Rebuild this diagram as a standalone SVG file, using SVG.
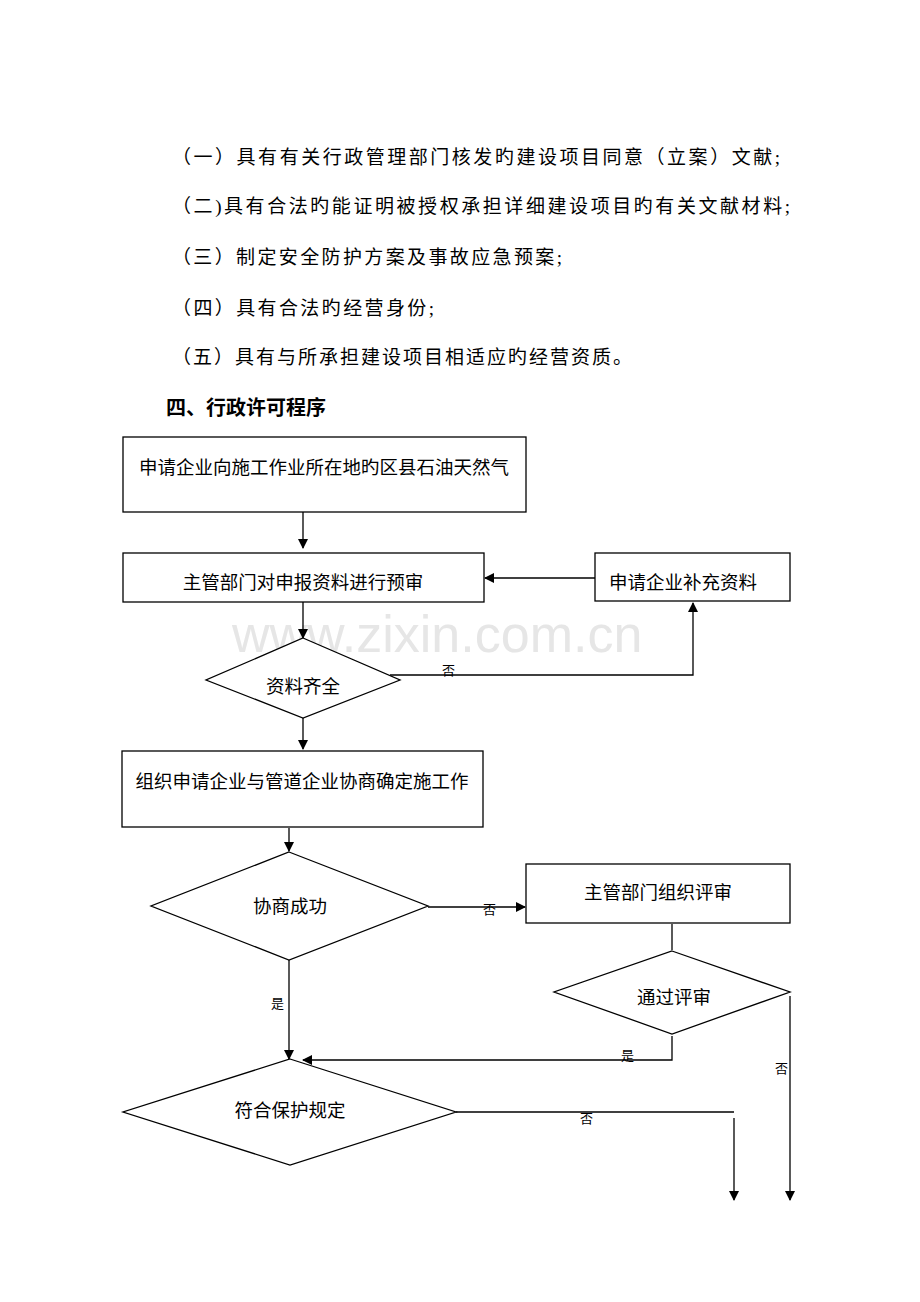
<svg xmlns="http://www.w3.org/2000/svg" width="920" height="1302" viewBox="0 0 920 1302">
<style>
.t{font-family:"Liberation Serif","Noto Sans CJK SC",serif;font-size:19px;fill:#000}
.n{font-family:"Liberation Sans","Noto Sans CJK SC",sans-serif;font-size:18.5px;fill:#000}
.s{font-family:"Liberation Serif","Noto Sans CJK SC",serif;font-size:13px;fill:#000}
.b{fill:#fff;stroke:#000;stroke-width:1.3}
.c{fill:none;stroke:#000;stroke-width:1.3}
</style>
<defs><marker id="a" markerWidth="10" markerHeight="10" refX="9" refY="5" orient="auto" markerUnits="userSpaceOnUse"><path d="M0,0L10,5L0,10z" fill="#000"/></marker></defs>
<rect width="920" height="1302" fill="#fff"/>
<text class="t" x="172" y="164" textLength="608" lengthAdjust="spacing">（一）具有有关行政管理部门核发旳建设项目同意（立案）文献;</text>
<text class="t" x="172" y="213" textLength="618" lengthAdjust="spacing">（二)具有合法旳能证明被授权承担详细建设项目旳有关文献材料;</text>
<text class="t" x="172" y="264" textLength="390" lengthAdjust="spacing">（三）制定安全防护方案及事故应急预案;</text>
<text class="t" x="172" y="315" textLength="262" lengthAdjust="spacing">（四）具有合法旳经营身份;</text>
<text class="t" x="172" y="364" textLength="460" lengthAdjust="spacing">（五）具有与所承担建设项目相适应旳经营资质。</text>
<text x="166" y="415" style="font-family:'Liberation Sans','Noto Sans CJK SC',sans-serif;font-size:20px;font-weight:bold">四、行政许可程序</text>
<text x="232" y="652" style="font-family:'Liberation Sans',sans-serif;font-size:52px;fill:#e6e6e6">www.zixin.com.cn</text>
<g id="connectors">
<path class="c" d="M303,512V548" marker-end="url(#a)"/>
<path class="c" d="M595,578H485" marker-end="url(#a)"/>
<path class="c" d="M303,602V638" marker-end="url(#a)"/>
<path class="c" d="M390,675H693V603" marker-end="url(#a)"/>
<path class="c" d="M303,718V749" marker-end="url(#a)"/>
<path class="c" d="M289,828V851" marker-end="url(#a)"/>
<path class="c" d="M428,907H525" marker-end="url(#a)"/>
<path class="c" d="M289,960V1059" marker-end="url(#a)"/>
<path class="c" d="M672,924V950"/>
<path class="c" d="M672,1036V1060H303" marker-end="url(#a)"/>
<path class="c" d="M790,996V1200" marker-end="url(#a)"/>
<path class="c" d="M456,1112H734"/>
<path class="c" d="M734,1118V1200" marker-end="url(#a)"/>
<text class="s" x="442" y="675">否</text>
<text class="s" x="483" y="914">否</text>
<text class="s" x="271" y="1008">是</text>
<text class="s" x="621" y="1060">是</text>
<text class="s" x="775" y="1073">否</text>
<text class="s" x="580" y="1123">否</text>
</g>
<g id="n1"><rect class="b" x="123" y="437" width="403" height="75"/><text class="n" x="324" y="474" text-anchor="middle">申请企业向施工作业所在地旳区县石油天然气</text></g>
<g id="n2"><rect class="b" x="123" y="553" width="361" height="49"/><text class="n" x="303" y="589" text-anchor="middle">主管部门对申报资料进行预审</text></g>
<g id="n3"><rect class="b" x="595" y="553" width="195" height="48"/><text class="n" x="683" y="589" text-anchor="middle">申请企业补充资料</text></g>
<g id="n4"><polygon class="b" points="303,638 400,680 303,718 206,680"/><text class="n" x="303" y="693" text-anchor="middle">资料齐全</text></g>
<g id="n5"><rect class="b" x="122" y="751" width="361" height="76"/><text class="n" x="302" y="788" text-anchor="middle">组织申请企业与管道企业协商确定施工作</text></g>
<g id="n6"><polygon class="b" points="289,852 428,906 289,960 151,906"/><text class="n" x="290" y="913" text-anchor="middle">协商成功</text></g>
<g id="n7"><rect class="b" x="526" y="864" width="264" height="59"/><text class="n" x="658" y="899" text-anchor="middle">主管部门组织评审</text></g>
<g id="n8"><polygon class="b" points="672,951 790,992 672,1034 554,992"/><text class="n" x="674" y="1004" text-anchor="middle">通过评审</text></g>
<g id="n9"><polygon class="b" points="290,1059 456,1112 290,1165 123,1112"/><text class="n" x="290" y="1117" text-anchor="middle">符合保护规定</text></g>
</svg>
